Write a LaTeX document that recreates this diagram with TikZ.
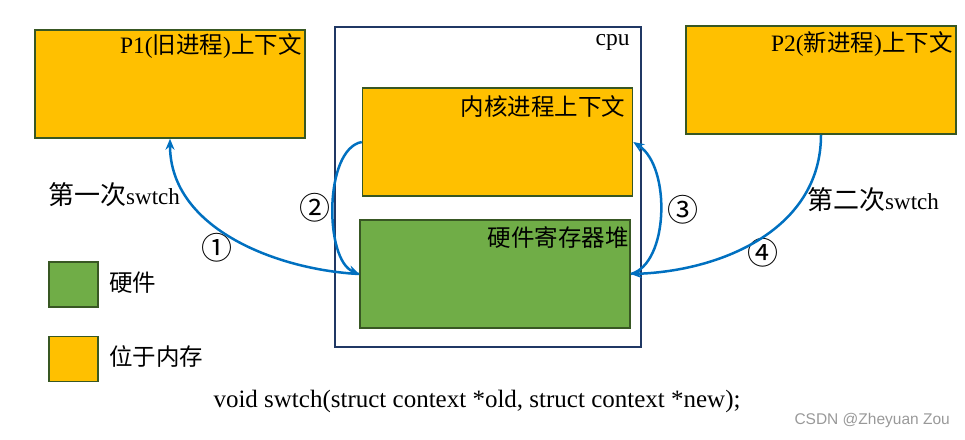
\documentclass[tikz,border=0pt]{standalone}
\usepackage{fontspec}
\setmainfont{Liberation Serif}
\newfontfamily\cjkfont{Noto Sans CJK SC}
\newfontfamily\wmfont{Liberation Sans}
\usetikzlibrary{arrows.meta}
\definecolor{memfill}{HTML}{FFC000}
\definecolor{hwfill}{HTML}{70AD47}
\definecolor{boxline}{HTML}{385723}
\definecolor{cpuline}{HTML}{203864}
\definecolor{swblue}{HTML}{0070C0}
\newcommand{\zh}[1]{{\cjkfont #1}}
\newcommand{\bigzh}[1]{{\cjkfont\fontsize{26}{30}\selectfont #1}}

\begin{document}
\begin{tikzpicture}[
		x=1pt, y=-1pt,
		every node/.style={font=\fontsize{23.5}{28}\selectfont},
		every label/.append style={rectangle},
		box/.style={rectangle, draw=boxline, line width=1.5pt, minimum width=270pt, minimum height=108pt},
		membox/.style={box, fill=memfill},
		hwbox/.style={box, fill=hwfill},
		key/.style={rectangle, draw=boxline, line width=1.5pt, minimum width=49pt, minimum height=45pt},
		tag/.style={anchor=north east, inner sep=4pt},
		num/.style={inner sep=0pt, font=\cjkfont\fontsize{31}{34}\selectfont},
		swtch/.style={draw=swblue, line width=2.5pt, -{Stealth[length=11pt, width=9pt]}}
	]
  \useasboundingbox (0,0) rectangle (965,439);
  \node (p1) [membox, label={[tag, name=p1tag]north east:P1(\zh{旧进程})\zh{上下文}}] at (170,84) {};
  \node (cpu) [rectangle, draw=cpuline, line width=1.5pt, minimum width=306pt, minimum height=320pt,
    label={[tag, name=cputag, xshift=-8pt, yshift=-4pt]north east:cpu}] at (488,187) {};
  \node (kernel) [membox, label={[tag, name=kerneltag, xshift=-4pt, yshift=-4pt]north east:\zh{内核进程上下文}}] at (497.5,142) {};
  \node (hw) [hwbox, label={[tag, name=hwtag, xshift=2pt, yshift=-3pt]north east:\zh{硬件寄存器堆}}] at (495,274) {};
  \node (p2) [membox, label={[tag, name=p2tag, yshift=-2pt]north east:P2(\zh{新进程})\zh{上下文}}] at (821,80) {};
  \node (hwkey) [key, fill=hwfill] at (73.5,284.5) {};
  \node (memkey) [key, fill=memfill] at (73.5,359) {};
  \node (hwtext) [anchor=west, inner sep=0pt] at (109,283) {\zh{硬件}};
  \node (memtext) [anchor=west, inner sep=0pt] at (109,357) {\zh{位于内存}};
  \node (first) [anchor=west, inner sep=0pt, font=\fontsize{23}{27}\selectfont] at (48,195) {\bigzh{第一次}swtch};
  \node (second) [anchor=west, inner sep=0pt, font=\fontsize{23}{27}\selectfont] at (807,200) {\bigzh{第二次}swtch};
  \node (n1) [num] at (217,248) {①};
  \node (n2) [num] at (315,208) {②};
  \node (n3) [num] at (683,210) {③};
  \node (n4) [num] at (763,253) {④};
  \node (sig) [font=\fontsize{25}{30}\selectfont] at (477,401) {void swtch(struct context *old, struct context *new);};
  \node (mark) [anchor=east, inner sep=0pt, font=\wmfont\fontsize{15.5}{18}\selectfont, text=black!40] at (950,420) {CSDN @Zheyuan Zou};
  \draw [swtch] (hw.west) .. controls +(-80,-4) and +(0,91) .. (p1.south);
  \draw [swtch] (kernel.west) .. controls +(-38,7) and +(-35,-14) .. (hw.west);
  \draw [swtch] (hw.east) .. controls +(38,-10) and +(38,25) .. (kernel.east);
  \draw [swtch] (p2.south) .. controls +(0,95) and +(90,-3) .. (hw.east);
\end{tikzpicture}
\end{document}
